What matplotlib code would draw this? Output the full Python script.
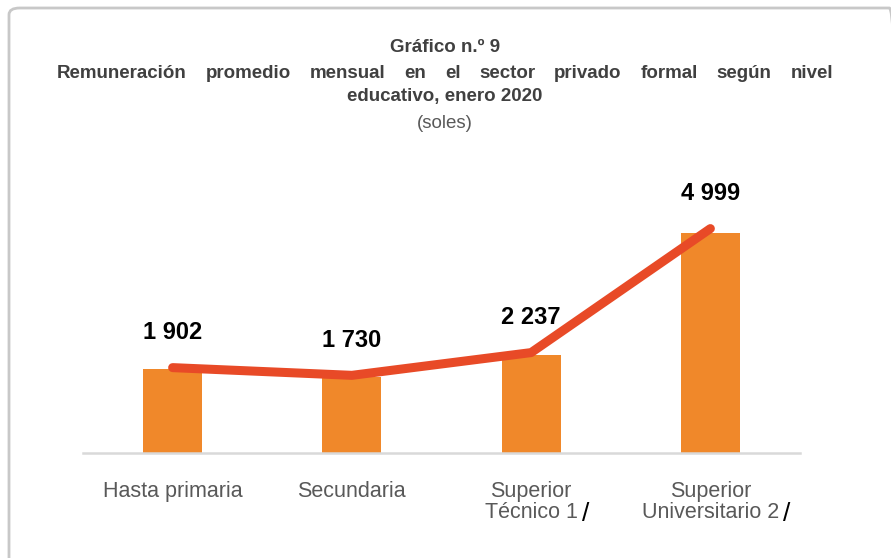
import matplotlib
matplotlib.use('Agg')
import matplotlib.pyplot as plt
from matplotlib.patches import FancyBboxPatch
import numpy as np

categories = ['Hasta primaria', 'Secundaria', 'Superior\nTécnico 1', 'Superior\nUniversitario 2']
footnote_marks = ['', '', '/', '/']
remuneracion = [1902, 1730, 2237, 4999]
value_labels = ['1 902', '1 730', '2 237', '4 999']

title_1 = 'Gráfico n.º 9'
title_2 = 'Remuneración promedio mensual en el sector privado formal según nivel'
title_3 = 'educativo, enero 2020'
subtitle = '(soles)'

W, H = 891, 558
fig = plt.figure(figsize=(W / 100, H / 100), dpi=100)
fig.patch.set_facecolor('white')

# rounded grey frame (right/bottom edges run off the picture)
frame = FancyBboxPatch((9 / W, -0.1), 1.0, 1.1 - 8 / H,
                       boxstyle='round,pad=0,rounding_size=0.012',
                       transform=fig.transFigure, fill=False,
                       edgecolor='#c8c8c8', lw=2, clip_on=False)
fig.patches.append(frame)

ax = fig.add_axes([83 / W, 1 - 453 / H, (800 - 83) / W, 303 / H])
x = np.arange(len(categories))
ax.bar(x, remuneracion, width=0.33, color='#F0882A', zorder=2)
ax.set_xlim(-0.5, len(categories) - 0.5)
ax.set_ylim(0, 6900)
for s in ['top', 'left', 'right']:
    ax.spines[s].set_visible(False)
ax.spines['bottom'].set_color('#d9d9d9')
ax.spines['bottom'].set_linewidth(1.8)
ax.set_yticks([])
ax.set_xticks(x)
ax.set_xticklabels(categories, fontsize=15.5, color='#595959',
                   family=['Liberation Sans', 'DejaVu Sans'], linespacing=1.0)
ax.tick_params(axis='x', length=0, pad=20)

# footnote slashes after the tick labels
for lbl, mark in zip(ax.get_xticklabels(), footnote_marks):
    if mark:
        ax.annotate(mark, xy=(1, 0), xycoords=lbl, xytext=(3, -2),
                    textcoords='offset points', ha='left', va='bottom',
                    fontsize=19, color='black',
                    family=['Liberation Sans', 'DejaVu Sans'])

ax2 = ax.twinx()
ax2.plot(x, remuneracion, color='#E84A27', lw=6.5, solid_capstyle='round', zorder=3)
ax2.set_ylim(0, 6750)
ax2.axis('off')
for xi, v, lbl in zip(x, remuneracion, value_labels):
    ax2.annotate(lbl, (xi, v), xytext=(0, 17), textcoords='offset points',
                 ha='center', va='bottom', fontsize=17, fontweight='bold',
                 color='black', family=['Liberation Sans', 'DejaVu Sans'])

tfont = ['Liberation Sans Narrow', 'Liberation Sans', 'DejaVu Sans']
fig.text(445 / W, 1 - 47 / H, title_1, ha='center', va='center', fontsize=13.5,
         fontweight='bold', color='#404040', family=tfont)
fig.text(445 / W, 1 - 97 / H, title_3, ha='center', va='center', fontsize=13.5,
         fontweight='bold', color='#404040', family=tfont)
fig.text(445 / W, 1 - 123 / H, subtitle, ha='center', va='center', fontsize=13.5,
         color='#595959', family=tfont)

# justified second title line
words = title_2.split()
texts = [fig.text(0, 1 - 74 / H, w, ha='left', va='center', fontsize=13.5,
                  fontweight='bold', color='#404040', family=tfont) for w in words]
renderer = fig.canvas.get_renderer()
widths = [t.get_window_extent(renderer).width for t in texts]
x0, x1 = 57, 833
gap = (x1 - x0 - sum(widths)) / (len(words) - 1)
pos = x0
for t, w in zip(texts, widths):
    t.set_x(pos / W)
    pos += w + gap

fig.savefig('out.png', dpi=100)
